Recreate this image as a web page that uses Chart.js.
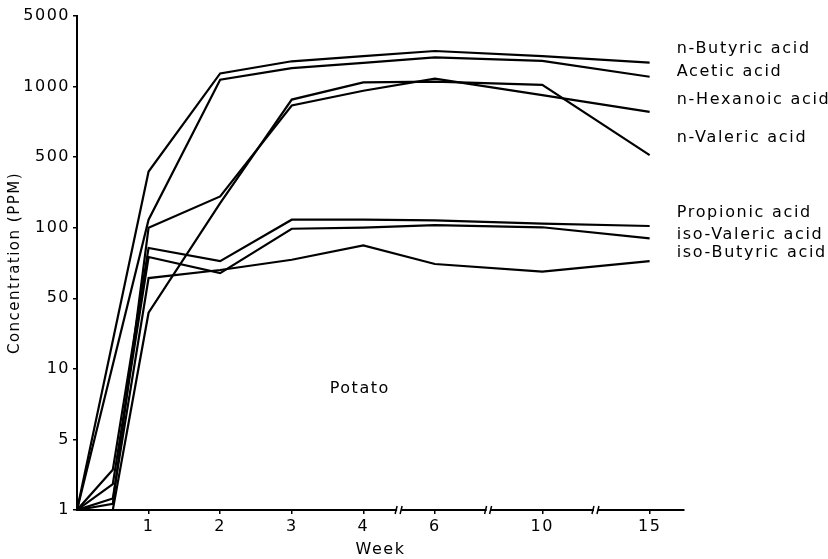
<!DOCTYPE html>
<html>
<head>
<meta charset="utf-8">
<script src="https://cdn.jsdelivr.net/npm/chart.js@4.4.1/dist/chart.umd.min.js"></script>
<style>
  html, body { margin: 0; padding: 0; background: #fff; }
</style>
</head>
<body>
<canvas id="graph" width="828" height="559"></canvas>
<script>
// 週 (x軸) と各酸の濃度 ppm (y軸)。null は 0.5週の測定なし
const WEEKS        = [0, 0.5, 1, 2, 3, 4, 6, 10, 15];
const N_BUTYRIC    = [1, null, 360, 1350, 1780, 2000, 2250, 2000, 1730];
const ACETIC       = [1, null, 120, 1170, 1520, 1720, 1950, 1800, 1250];
const N_HEXANOIC   = [1, 1.15, 100, 204, 830, 960, 1200, 920, 780];
const N_VALERIC    = [1, 1, 36, 175, 880, 1100, 1120, 1040, 510];
const PROPIONIC    = [1, 2.5, 82, 72, 120, 120, 118, 110, 104];
const ISO_VALERIC  = [1, 1.8, 75, 64, 99, 100, 106, 101, 90];
const ISO_BUTYRIC  = [1, 1.3, 61, 66, 73, 84, 70, 65, 72];

const SERIES_NAMES = ["n-Butyric acid", "Acetic acid", "n-Hexanoic acid", "n-Valeric acid",
                      "Propionic acid", "iso-Valeric acid", "iso-Butyric acid"];
const SERIES_DATA  = [N_BUTYRIC, ACETIC, N_HEXANOIC, N_VALERIC, PROPIONIC, ISO_VALERIC, ISO_BUTYRIC];

// 目盛り
const X_TICKS      = [1, 2, 3, 4, 6, 10, 15];
const X_BREAKS     = [5, 8, 12.5];
const Y_TICKS      = [1, 5, 10, 50, 100, 500, 1000, 5000];

// 軸の歪み (折れ線軸 / 目盛り等間隔の対数軸)
const X_UNITS      = [0, 1, 2, 3, 4, 5, 6.5, 8];
const WARPS = {
    x: { knots: [0, 1, 2, 3, 4, 6, 10, 15], units: X_UNITS, log: false },
    y: { knots: Y_TICKS, units: Y_TICKS.map((v, i) => i), log: true },
};

// ラベルの上下位置の微調整 (px)
const LABEL_NUDGE  = [-14, -5, -12, -17, -13, -4, -8];

function warp(w, v){
    const f = w.log ? Math.log : (t) => t;
    const k = w.knots, u = w.units;
    let i = 0;
    while ( i < k.length - 2 && v > k[i+1] ){ i++; }
    const t = (f(v) - f(k[i])) / (f(k[i+1]) - f(k[i]));
    return u[i] + t * (u[i+1] - u[i]);
}

function unwarp(w, p){
    const f  = w.log ? Math.log : (t) => t;
    const fi = w.log ? Math.exp : (t) => t;
    const k = w.knots, u = w.units;
    let i = 0;
    while ( i < u.length - 2 && p > u[i+1] ){ i++; }
    const t = (p - u[i]) / (u[i+1] - u[i]);
    return fi(f(k[i]) + t * (f(k[i+1]) - f(k[i])));
}

class WarpScale extends Chart.LinearScale {
    static id = "warp";
    static defaults = {};

    getPixelForValue(value){
        if ( value === null || value === undefined || isNaN(value) ){ return NaN; }
        const w = WARPS[this.id];
        const a = warp(w, this.min), b = warp(w, this.max);
        return this.getPixelForDecimal((warp(w, value) - a) / (b - a));
    }

    getValueForPixel(pixel){
        const w = WARPS[this.id];
        const a = warp(w, this.min), b = warp(w, this.max);
        return unwarp(w, a + this.getDecimalForPixel(pixel) * (b - a));
    }
}
Chart.register(WarpScale);

Chart.defaults.font.family = "'DejaVu Sans', sans-serif";
Chart.defaults.font.size   = 16;
Chart.defaults.color       = "#000";

const INK = "#000";

const annotate = {
    id: "annotate",
    beforeDraw(chart){
        chart.ctx.letterSpacing = "1.5px";
    },
    afterDraw(chart){
        const ctx = chart.ctx;
        const xs  = chart.scales.x, ys = chart.scales.y;
        ctx.save();

        // 軸の省略記号 //
        const y0 = chart.chartArea.bottom;
        for ( let b of X_BREAKS ){
            const x = xs.getPixelForValue(b);
            ctx.fillStyle = "#fff";
            ctx.fillRect(x - 2, y0 - 2, 4, 4);
            ctx.strokeStyle = INK;
            ctx.lineWidth = 1.5;
            ctx.beginPath();
            ctx.moveTo(x - 4, y0 + 4); ctx.lineTo(x - 2, y0 - 4);
            ctx.moveTo(x + 1, y0 + 4); ctx.lineTo(x + 3, y0 - 4);
            ctx.stroke();
        }

        ctx.fillStyle = INK;
        ctx.font = "16px 'DejaVu Sans', sans-serif";
        ctx.letterSpacing = "1.5px";
        ctx.textBaseline = "middle";

        // Potato
        ctx.textAlign = "center";
        ctx.fillText("Potato", xs.getPixelForValue(3.95), ys.getPixelForValue(8.2));

        // 右側の系列名
        ctx.textAlign = "left";
        ctx.letterSpacing = "1.7px";
        const lx = xs.getPixelForValue(15) + 27;
        for ( let i = 0; i < SERIES_NAMES.length; i++ ){
            const d = SERIES_DATA[i];
            const ly = ys.getPixelForValue(d[d.length - 1]) + LABEL_NUDGE[i];
            ctx.fillText(SERIES_NAMES[i], lx, ly);
        }
        ctx.restore();
    }
};

const ctx = document.getElementById("graph").getContext("2d");

const CHART = new Chart(ctx, {
    type: "line",
    data: {
        datasets: SERIES_DATA.map((d, i) => ({
            label: SERIES_NAMES[i],
            data: WEEKS.map((w, j) => ({ x: w, y: d[j] })),
            borderColor: INK,
            borderWidth: 2.2,
            pointRadius: 0,
            tension: 0,
            spanGaps: true,
        }))
    },
    options: {
        responsive: false,
        animation: false,
        layout: { padding: { top: 16, right: 144, bottom: 0, left: 0 } },
        plugins: { legend: { display: false }, tooltip: { enabled: false } },
        scales: {
            x: {
                type: "warp",
                min: 0,
                max: 16.6,
                afterBuildTicks: (s) => { s.ticks = X_TICKS.map(v => ({ value: v })); },
                afterFit: (s) => { s.height = 49; },
                ticks: { autoSkip: false, maxRotation: 0, padding: 3, callback: (v) => String(v) },
                grid: { drawOnChartArea: false, drawTicks: true, tickLength: 4, color: INK, lineWidth: 1.5 },
                border: { display: true, color: INK, width: 2 },
                title: { display: true, text: "Week", padding: { top: 3, bottom: 0 } },
            },
            y: {
                type: "warp",
                min: 1,
                max: 5000,
                afterBuildTicks: (s) => { s.ticks = Y_TICKS.map(v => ({ value: v })); },
                afterFit: (s) => { s.width = 77; },
                ticks: { autoSkip: false, padding: 3, callback: (v) => String(v) },
                grid: { drawOnChartArea: false, drawTicks: true, tickLength: 4, color: INK, lineWidth: 1.5 },
                border: { display: true, color: INK, width: 2 },
                title: { display: true, text: "Concentration (PPM)", font: { size: 15 }, padding: { top: 6, bottom: 0 } },
            }
        }
    },
    plugins: [annotate]
});
</script>
</body>
</html>
